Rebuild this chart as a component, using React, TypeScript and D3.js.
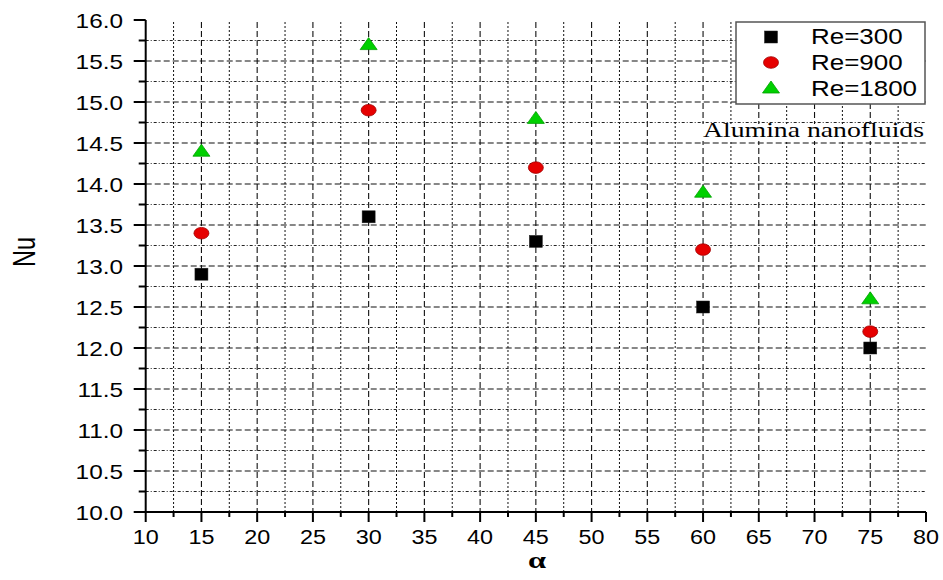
import React from "react";
import * as d3 from "d3";

const alphas = [15, 30, 45, 60, 75];
const re300 = [12.9, 13.6, 13.3, 12.5, 12.0];
const re900 = [13.4, 14.9, 14.2, 13.2, 12.2];
const re1800 = [14.4, 15.7, 14.8, 13.9, 12.6];
const seriesNames = ["Re=300", "Re=900", "Re=1800"];
const xTicks = [10, 15, 20, 25, 30, 35, 40, 45, 50, 55, 60, 65, 70, 75, 80];
const yTicks = [10.0, 10.5, 11.0, 11.5, 12.0, 12.5, 13.0, 13.5, 14.0, 14.5, 15.0, 15.5, 16.0];
const annotation = "Alumina nanofluids";

const W = 943, H = 580;
const L = 145.7, R = 926, T = 20, B = 512;

function Marker({ kind, cx, cy }: { kind: number; cx: number; cy: number }) {
  if (kind === 0) {
    return <rect x={cx - 6.5} y={cy - 6} width={13} height={12} fill="#000" stroke="#222" strokeWidth={0.5} />;
  }
  if (kind === 1) {
    return <ellipse cx={cx} cy={cy} rx={7.5} ry={5.8} fill="#e60000" stroke="#a00000" strokeWidth={0.8} />;
  }
  const p = d3.path();
  p.moveTo(cx, cy - 7);
  p.lineTo(cx + 8.5, cy + 5);
  p.lineTo(cx - 8.5, cy + 5);
  p.closePath();
  return <path d={p.toString()} fill="#00d000" stroke="#00a000" strokeWidth={0.8} />;
}

export default function App() {
  const x = d3.scaleLinear().domain([10, 80]).range([L, R]);
  const y = d3.scaleLinear().domain([10, 16]).range([B, T]);
  const series = [re300, re900, re1800];

  const xMajorGrid = d3.range(15, 80, 5);
  const xMinor = d3.range(12.5, 80, 5);
  const yMajorGrid = d3.range(10.5, 16, 0.5);
  const yMinor = d3.range(10.25, 16, 0.5);

  const fontSans = "'Liberation Sans', Arial, sans-serif";
  const fontSerif = "'Liberation Serif', 'Times New Roman', serif";

  return (
    <svg width={W} height={H} style={{ position: "absolute", left: 0, top: 0, background: "#fff" }}>
      <rect x={0} y={0} width={W} height={H} fill="#fff" />
      {/* grid */}
      <g>
        {xMinor.map((v) => (
          <line key={"xm" + v} x1={x(v)} x2={x(v)} y1={T + 2} y2={B} stroke="#111" strokeWidth={1} strokeDasharray="2,2" />
        ))}
        {xMajorGrid.map((v) => (
          <line key={"xM" + v} x1={x(v)} x2={x(v)} y1={T + 2} y2={B} stroke="#111" strokeWidth={1.1} strokeDasharray="6,3" />
        ))}
        {yMinor.map((v) => (
          <line key={"ym" + v} x1={L} x2={R} y1={y(v)} y2={y(v)} stroke="#222" strokeWidth={1} strokeDasharray="3,2,1,2" />
        ))}
        {yMajorGrid.map((v) => (
          <line key={"yM" + v} x1={L} x2={R} y1={y(v)} y2={y(v)} stroke="#111" strokeWidth={1.1} strokeDasharray="6,3" />
        ))}
      </g>
      {/* annotation */}
      <rect x={700} y={124} width={226} height={17} fill="#fff" />
      <text x={703} y={137} fontFamily={fontSerif} fontSize={21.5} textLength={221} lengthAdjust="spacingAndGlyphs" fill="#000">
        {annotation}
      </text>
      {/* legend */}
      <rect x={736} y={22} width={189} height={82} fill="#fff" stroke="#555" strokeWidth={1.5} />
      {seriesNames.map((n, i) => (
        <g key={n}>
          <Marker kind={i} cx={771} cy={37 + i * 25.5} />
          <text transform={`translate(811,${44 + i * 26}) scale(1.18,1)`} fontFamily={fontSans} fontSize={22} fill="#000">
            {n}
          </text>
        </g>
      ))}
      {/* axes */}
      <line x1={L} x2={L} y1={T} y2={B + 1} stroke="#000" strokeWidth={2} />
      <line x1={L - 1} x2={R} y1={B} y2={B} stroke="#000" strokeWidth={2} />
      {xTicks.map((v) => (
        <g key={"xt" + v}>
          <line x1={x(v)} x2={x(v)} y1={B} y2={B + 10} stroke="#000" strokeWidth={2} />
          <text transform={`translate(${x(v)},544) scale(1.14,1)`} textAnchor="middle" fontFamily={fontSans} fontSize={20.5} fill="#000">
            {v}
          </text>
        </g>
      ))}
      {xMinor.map((v) => (
        <line key={"xmt" + v} x1={x(v)} x2={x(v)} y1={B} y2={B + 5} stroke="#000" strokeWidth={2} />
      ))}
      {yTicks.map((v) => (
        <g key={"yt" + v}>
          <line x1={L - 12} x2={L} y1={y(v)} y2={y(v)} stroke="#000" strokeWidth={2} />
          <text transform={`translate(123,${y(v) + 7.5}) scale(1.16,1)`} textAnchor="end" fontFamily={fontSans} fontSize={21} fill="#000">
            {v.toFixed(1)}
          </text>
        </g>
      ))}
      {yMinor.map((v) => (
        <line key={"ymt" + v} x1={L - 7} x2={L} y1={y(v)} y2={y(v)} stroke="#000" strokeWidth={2} />
      ))}
      {/* axis titles */}
      <text transform={`translate(35,252) scale(1.35,1) rotate(-90)`} textAnchor="middle" fontFamily={fontSans} fontSize={23.5} fill="#000">
        Nu
      </text>
      <text transform={`translate(537,568) scale(1.35,1)`} textAnchor="middle" fontFamily={fontSerif} fontWeight="bold" fontSize={24} fill="#000">
        α
      </text>
      {/* data */}
      {series.map((s, si) => (
        <g key={"s" + si}>
          {s.map((v, i) => (
            <Marker key={i} kind={si} cx={x(alphas[i])} cy={y(v)} />
          ))}
        </g>
      ))}
    </svg>
  );
}
